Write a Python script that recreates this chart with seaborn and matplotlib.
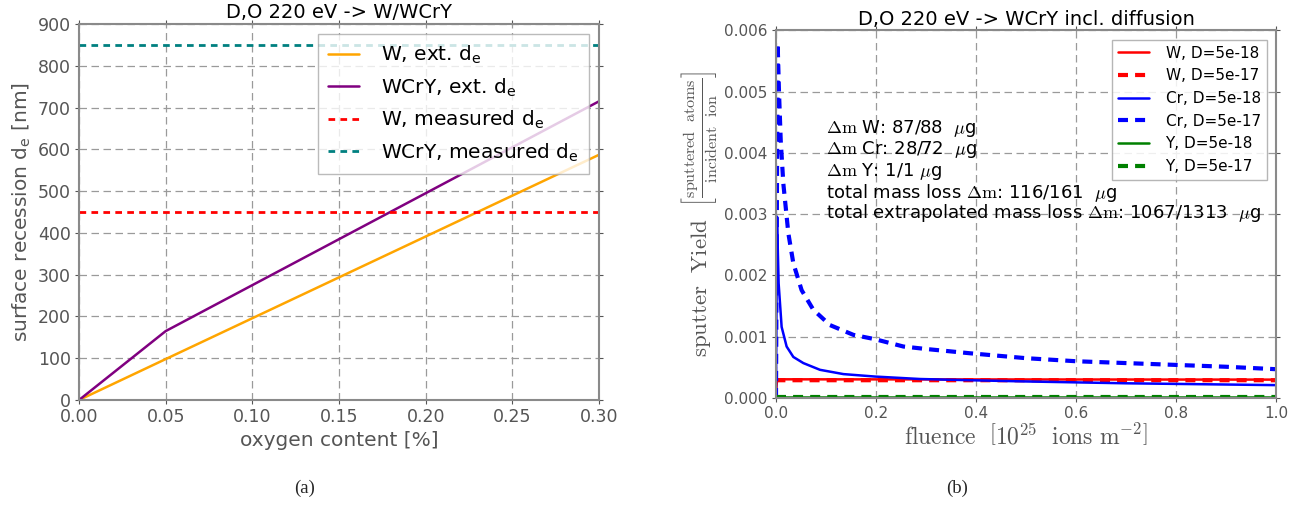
import matplotlib
matplotlib.use("Agg")
import matplotlib.pyplot as plt
import seaborn as sns

# ---------------- data: panel (a) ----------------
oxygen = [0.0, 0.05, 0.30]
w_ext = [0.0, 98.0, 587.0]
wcry_ext = [0.0, 165.0, 715.0]
w_measured = 450.0
wcry_measured = 850.0

# ---------------- data: panel (b) ----------------
w_d18_fluence = [0.0, 0.002, 1.0]
w_d18 = [0.00003, 0.000305, 0.00030]
w_d17_fluence = [0.0, 0.002, 1.0]
w_d17 = [0.00027, 0.00029, 0.00029]

cr_d18_fluence = [0.0, 0.002, 0.0053, 0.0113, 0.0213, 0.0347, 0.0547, 0.088, 0.135,
                  0.198, 0.288, 0.388, 0.5, 0.6, 0.7, 0.8, 0.9, 1.0]
cr_d18 = [0.0, 0.00296, 0.00187, 0.00116, 0.00084, 0.00067, 0.00057, 0.00046, 0.00039,
          0.00035, 0.00031, 0.00029, 0.00027, 0.000255, 0.00024, 0.00023, 0.00022, 0.00021]

cr_d17_fluence = [0.0, 0.0033, 0.006, 0.0095, 0.0147, 0.0247, 0.0347, 0.0513, 0.0747,
                  0.108, 0.155, 0.198, 0.255, 0.3, 0.388, 0.5, 0.6, 0.7, 0.8, 0.9, 1.0]
cr_d17 = [0.0, 0.00579, 0.00500, 0.00420, 0.00350, 0.00269, 0.00220, 0.00176, 0.00144,
          0.00119, 0.00103, 0.00096, 0.00084, 0.00080, 0.00073, 0.00065, 0.00060, 0.00057,
          0.00054, 0.00051, 0.00047]

y_d18_fluence = [0.0, 1.0]
y_d18 = [0.00001, 0.00001]
y_d17_fluence = [0.0, 1.0]
y_d17 = [0.00001, 0.00001]

annotations = [r"$\Delta\mathrm{m}$ W: 87/88  $\mu$g",
               r"$\Delta\mathrm{m}$ Cr: 28/72  $\mu$g",
               r"$\Delta\mathrm{m}$ Y: 1/1 $\mu$g",
               r"total mass loss $\Delta\mathrm{m}$: 116/161  $\mu$g",
               r"total extrapolated mass loss $\Delta\mathrm{m}$: 1067/1313  $\mu$g"]

sns.set_theme(style="whitegrid")
plt.rcParams.update({
    "font.family": ["DejaVu Sans"],
    "axes.edgecolor": "#8a8a8a",
    "axes.linewidth": 1.5,
    "xtick.color": "#555555",
    "ytick.color": "#555555",
    "xtick.labelcolor": "#555555",
    "ytick.labelcolor": "#555555",
    "axes.labelcolor": "#555555",
    "xtick.bottom": True, "xtick.top": True,
    "ytick.left": True, "ytick.right": True,
    "xtick.direction": "out", "ytick.direction": "out",
    "xtick.major.size": 3, "ytick.major.size": 3,
    "xtick.major.width": 0.8, "ytick.major.width": 0.8,
    "axes.facecolor": "white",
})

fig = plt.figure(figsize=(13.15, 5.07), dpi=100)
ax1 = fig.add_axes([0.0601, 0.211, 0.3954, 0.7416])
ax2 = fig.add_axes([0.5901, 0.215, 0.3802, 0.725])

grid_kw = dict(color="#9a9a9a", linestyle=(0, (6, 3.6)), linewidth=0.9)

# ---------------- panel (a) ----------------
sns.lineplot(x=oxygen, y=w_ext, ax=ax1, color="orange", linewidth=1.8,
             label=r"W, ext. d$_\mathrm{e}$", estimator=None)
sns.lineplot(x=oxygen, y=wcry_ext, ax=ax1, color="purple", linewidth=1.8,
             label=r"WCrY, ext. d$_\mathrm{e}$", estimator=None)
ax1.axhline(w_measured, color="red", linewidth=2, linestyle=(0, (2.4, 1.9)),
            label=r"W, measured d$_\mathrm{e}$")
ax1.axhline(wcry_measured, color="teal", linewidth=2, linestyle=(0, (2.4, 1.9)),
            label=r"WCrY, measured d$_\mathrm{e}$")
ax1.set_xlim(0, 0.3)
ax1.set_ylim(0, 900)
ax1.set_xticks([0.0, 0.05, 0.10, 0.15, 0.20, 0.25, 0.30])
ax1.set_xticklabels(["0.00", "0.05", "0.10", "0.15", "0.20", "0.25", "0.30"])
ax1.set_yticks(range(0, 901, 100))
ax1.tick_params(labelsize=12.5, pad=3)
ax1.grid(True, **grid_kw)
ax1.set_xlabel("oxygen content [%]", fontsize=14.5, labelpad=3)
ax1.set_ylabel(r"surface recession d$_\mathrm{e}$ [nm]", fontsize=14.5, labelpad=3)
ax1.set_title("D,O 220 eV -> W/WCrY", fontsize=14, color="black", pad=4)
leg1 = ax1.legend(loc="upper right", fontsize=14.5, frameon=True, fancybox=False,
                  framealpha=0.8, edgecolor="#aaaaaa", handlelength=1.55,
                  handletextpad=1.1, labelspacing=0.5, borderpad=0.5,
                  borderaxespad=0.5)
leg1.get_frame().set_linewidth(1.0)
for t in leg1.get_texts():
    t.set_color("black")

# ---------------- panel (b) ----------------
series = [
    (w_d18_fluence, w_d18, "red", "-", 1.8, "W, D=5e-18"),
    (w_d17_fluence, w_d17, "red", (0, (2.4, 1.7)), 3.0, "W, D=5e-17"),
    (cr_d18_fluence, cr_d18, "blue", "-", 1.8, "Cr, D=5e-18"),
    (cr_d17_fluence, cr_d17, "blue", (0, (2.4, 1.7)), 3.0, "Cr, D=5e-17"),
    (y_d18_fluence, y_d18, "green", "-", 1.8, "Y, D=5e-18"),
    (y_d17_fluence, y_d17, "green", (0, (2.4, 1.7)), 3.0, "Y, D=5e-17"),
]
for xs, vals, col, ls, lw, lab in series:
    sns.lineplot(x=xs, y=vals, ax=ax2, color=col, linestyle=ls,
                 linewidth=lw, label=lab, estimator=None, sort=False)
ax2.set_xlim(0, 1.0)
ax2.set_ylim(0, 0.006)
ax2.set_xticks([0.0, 0.2, 0.4, 0.6, 0.8, 1.0])
ax2.set_xticklabels(["0.0", "0.2", "0.4", "0.6", "0.8", "1.0"])
ax2.set_yticks([0.0, 0.001, 0.002, 0.003, 0.004, 0.005, 0.006])
ax2.set_yticklabels(["0.000", "0.001", "0.002", "0.003", "0.004", "0.005", "0.006"])
ax2.tick_params(labelsize=11, pad=3)
ax2.grid(True, **grid_kw)
ax2.set_xlabel(r"$\mathrm{fluence}\ \ \left[10^{25}\ \ \mathrm{ions\ m^{-2}}\right]$",
               fontsize=17, math_fontfamily="cm", labelpad=2)
ax2.set_ylabel(r"$\mathrm{sputter}\ \ \mathrm{Yield}\ \ \left[\frac{\mathrm{sputtered\ \ atoms}}{\mathrm{incident\ \ ion}}\right]$",
               fontsize=16.5, math_fontfamily="cm", labelpad=4)
ax2.set_title("D,O 220 eV -> WCrY incl. diffusion", fontsize=14, color="black", pad=4)
leg2 = ax2.legend(loc="upper right", fontsize=11, frameon=True, fancybox=False,
                  framealpha=0.85, edgecolor="#aaaaaa", handlelength=2.0,
                  handletextpad=1.1, labelspacing=0.5, borderpad=0.4,
                  borderaxespad=0.6)
leg2.get_frame().set_linewidth(1.0)
for t in leg2.get_texts():
    t.set_color("black")

ann_y = [0.00440, 0.00405, 0.00369, 0.00334, 0.00302]
for txt, yy in zip(annotations, ann_y):
    ax2.text(0.1, yy, txt, fontsize=13, color="black", va="center", ha="left",
             math_fontfamily="cm")

fig.text(0.2315, 0.036, "(a)", fontsize=13.5, family="Liberation Serif", ha="center", va="center")
fig.text(0.7278, 0.036, "(b)", fontsize=13.5, family="Liberation Serif", ha="center", va="center")

fig.savefig("out.png", dpi=100)
